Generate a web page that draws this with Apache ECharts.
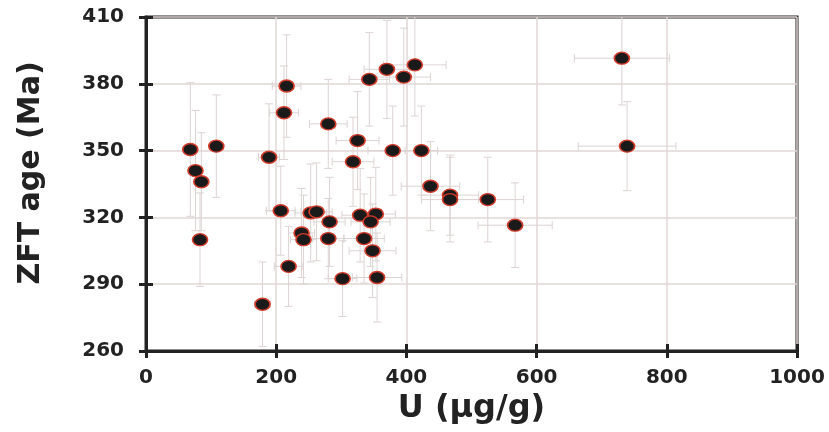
<!DOCTYPE html>
<html>
<head>
<meta charset="utf-8">
<script src="https://cdn.jsdelivr.net/npm/echarts@6/dist/echarts.min.js"></script>
<style>
    html, body {margin: 0; padding: 0; background: #fff;}
    #zftChart {width: 829px; height: 432px;}
</style>
</head>
<body>
<div id="zftChart"></div>
<script>
// U含量 (μg/g)
var uVals   = [68, 76, 85, 108, 83, 189, 216, 212, 179, 207, 219, 239, 242, 253, 262, 280, 282, 280, 302, 325,
               318, 329, 353, 345, 335, 348, 355, 343, 370, 396, 413, 379, 423, 437, 467, 467, 525, 567, 731, 739];
var uErr    = [10, 10, 8, 10, 8, 16, 22, 22, 12, 22, 22, 20, 20, 24, 24, 29, 24, 24, 22, 33,
               32, 28, 30, 30, 31, 36, 38, 31, 35, 41, 48, 38, 25, 45, 44, 44, 55, 57, 73, 75];
// ZFT年龄 (Ma)
var ageVals = [350.5, 341, 336, 352, 310, 347, 379, 367, 281, 323, 298, 313, 310, 322, 322.5, 362, 318, 310.5, 292.5, 354.5,
               345, 321, 321.5, 318, 310.5, 305, 293, 382, 386.5, 383, 388.5, 350, 350, 334, 330, 328, 328, 316.5, 391.5, 352];
var ageErr  = [30, 27, 22, 23, 21, 24, 23, 21, 19, 20, 18, 20, 20, 22, 22, 20, 20, 18, 17, 22,
               20, 21, 21, 20, 20, 21, 20, 21, 22, 22, 23, 20, 20, 20, 18, 19, 19, 19, 21, 20];

var xTicks = {min: 0, max: 1000, interval: 200};
var yTicks = {min: 260, max: 410, interval: 30};

var zftChart;
var fontName = 'DejaVu Sans';

function buildData(){
    var points = [];
    var bars = [];
    for (var i = 0; i < uVals.length; i++) {
        points.push([uVals[i], ageVals[i]]);
        bars.push([uVals[i], ageVals[i], uErr[i], ageErr[i]]);
    }
    return {points: points, bars: bars};
}

//误差棒
function renderErrorBar(params, api){
    var x = api.value(0), y = api.value(1), ex = api.value(2), ey = api.value(3);
    var l = api.coord([x - ex, y]), r = api.coord([x + ex, y]);
    var t = api.coord([x, y + ey]), b = api.coord([x, y - ey]);
    var cap = 4;
    var style = {stroke: '#ddd3d3', lineWidth: 1};
    function seg(x1, y1, x2, y2){
        return {type: 'line', shape: {x1: x1, y1: y1, x2: x2, y2: y2}, style: style};
    }
    return {
        type: 'group',
        children: [
            seg(l[0], l[1], r[0], r[1]),
            seg(l[0], l[1] - cap, l[0], l[1] + cap),
            seg(r[0], r[1] - cap, r[0], r[1] + cap),
            seg(t[0], t[1], b[0], b[1]),
            seg(t[0] - cap, t[1], t[0] + cap, t[1]),
            seg(b[0] - cap, b[1], b[0] + cap, b[1])
        ]
    };
}

function getOption(){
    var d = buildData();
    var labelStyle = {color: '#222', fontFamily: fontName, fontWeight: 'bold', fontSize: 20,
        formatter: function(v){ return String(v); }};
    var splitStyle = {show: true, lineStyle: {color: '#e2d6d6', width: 1.5}};
    return {
        animation: false,
        backgroundColor: '#fff',
        grid: {left: 146, right: 32, top: 17, bottom: 81, show: true, borderColor: '#222', borderWidth: 3},
        xAxis: [{
            type: 'value', min: xTicks.min, max: xTicks.max, interval: xTicks.interval,
            name: 'U (μg/g)', nameLocation: 'middle', nameGap: 39,
            nameTextStyle: {color: '#222', fontFamily: fontName, fontWeight: 'bold', fontSize: 32},
            axisLine: {show: true, lineStyle: {color: '#222', width: 3}},
            axisTick: {show: true, inside: false, length: 7, lineStyle: {color: '#222', width: 3}},
            axisLabel: Object.assign({margin: 17}, labelStyle),
            splitLine: splitStyle
        }, {
            type: 'value', min: xTicks.min, max: xTicks.max, interval: xTicks.interval, position: 'bottom',
            axisLine: {show: false},
            axisTick: {show: true, inside: true, length: 7, lineStyle: {color: '#222', width: 3}},
            axisLabel: {show: false}, splitLine: {show: false}
        }],
        yAxis: [{
            type: 'value', min: yTicks.min, max: yTicks.max, interval: yTicks.interval,
            name: 'ZFT age (Ma)', nameLocation: 'middle', nameGap: 100,
            nameTextStyle: {color: '#222', fontFamily: fontName, fontWeight: 'bold', fontSize: 30, padding: [0, 0, 0, 22]},
            axisLine: {show: true, lineStyle: {color: '#222', width: 3}},
            axisTick: {show: true, inside: false, length: 7, lineStyle: {color: '#222', width: 3}},
            axisLabel: Object.assign({margin: 22}, labelStyle),
            splitLine: splitStyle
        }, {
            type: 'value', min: yTicks.min, max: yTicks.max, interval: yTicks.interval, position: 'left',
            axisLine: {show: false},
            axisTick: {show: true, inside: true, length: 7, lineStyle: {color: '#222', width: 3}},
            axisLabel: {show: false}, splitLine: {show: false}
        }],
        series: [{
            type: 'custom',
            renderItem: renderErrorBar,
            data: d.bars,
            clip: true,
            z: 1,
            encode: {x: 0, y: 1}
        }, {
            type: 'scatter',
            data: d.points,
            symbol: 'circle',
            symbolSize: [15, 12],
            itemStyle: {color: '#1a1a1a', borderColor: '#d23a2a', borderWidth: 1.5, opacity: 1},
            z: 3
        }]
    };
}

zftChart = echarts.init(document.getElementById('zftChart'));
zftChart.setOption(getOption(), true);
</script>
</body>
</html>
